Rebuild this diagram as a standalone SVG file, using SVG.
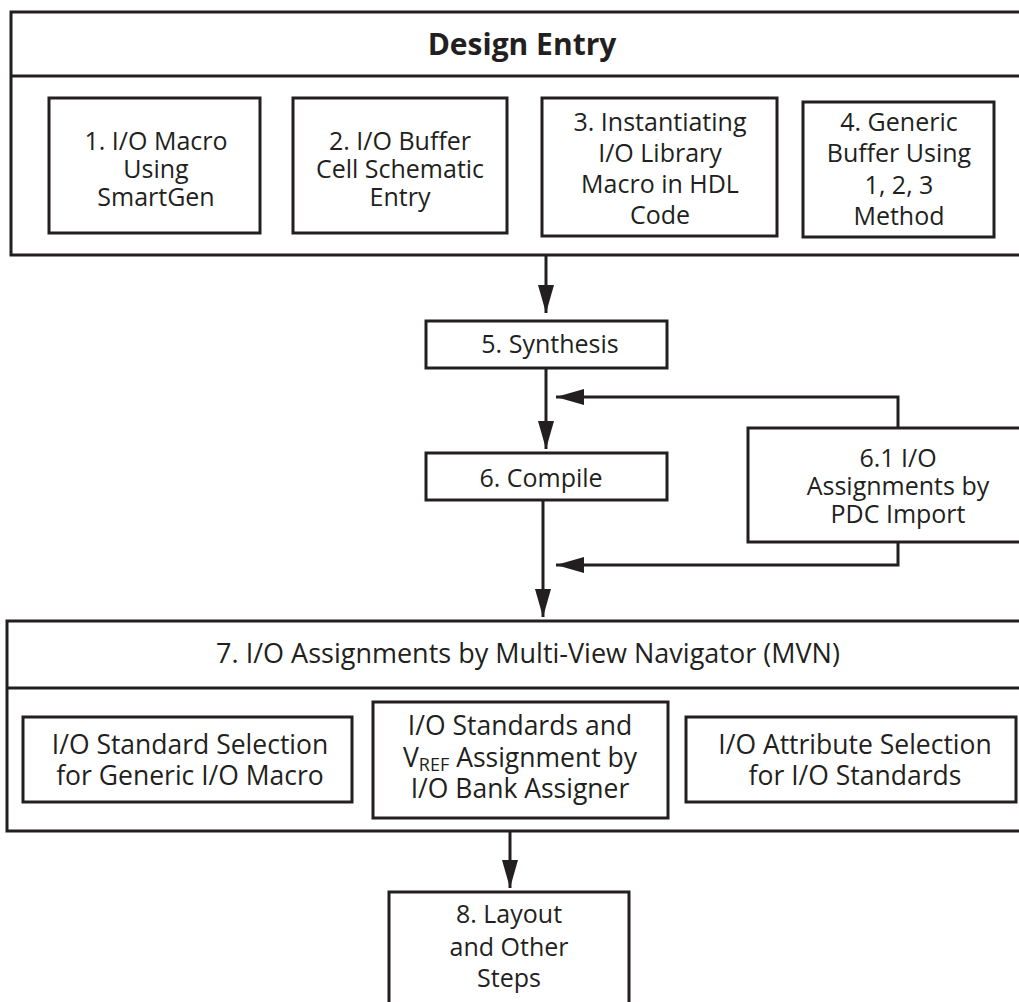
<svg xmlns="http://www.w3.org/2000/svg" width="1019" height="1002" viewBox="0 0 1019 1002">
<style>
.box{fill:#fff;stroke:#231f20;stroke-width:3}
.t{font-family:"Open Sans","Noto Sans",sans-serif;font-size:25px;fill:#231f20;text-anchor:middle}
.t2{font-family:"Open Sans","Noto Sans",sans-serif;font-size:26.5px;fill:#231f20;text-anchor:middle}
.t3{font-family:"Open Sans","Noto Sans",sans-serif;font-size:27px;fill:#231f20;text-anchor:middle}
.title{font-family:"Open Sans","Noto Sans",sans-serif;font-size:30px;font-weight:bold;fill:#231f20;text-anchor:middle}
.ln{fill:none;stroke:#231f20;stroke-width:3}
</style>
<defs>
<marker id="ah" markerUnits="userSpaceOnUse" markerWidth="30" markerHeight="20" viewBox="0 0 30 20" refX="28" refY="10" orient="auto">
<path d="M0,2 L28,10 L0,18 Z" fill="#231f20"/>
</marker>
</defs>
<rect width="1019" height="1002" fill="#fff"/>

<g id="design-entry">
<path class="box" d="M1022,12 H11 V255 H1022"/>
<line class="ln" x1="11" y1="76" x2="1022" y2="76"/>
<text class="title" x="522" y="55">Design Entry</text>
</g>
<g id="n1">
<rect class="box" x="49" y="98" width="211" height="135"/>
<text class="t" x="156" y="150">1. I/O Macro</text>
<text class="t" x="156" y="178">Using</text>
<text class="t" x="156" y="206">SmartGen</text>
</g>
<g id="n2">
<rect class="box" x="293" y="98" width="214" height="135"/>
<text class="t" x="400" y="150">2. I/O Buffer</text>
<text class="t" x="400" y="178">Cell Schematic</text>
<text class="t" x="400" y="206">Entry</text>
</g>
<g id="n3">
<rect class="box" x="542" y="98" width="235" height="138"/>
<text class="t" x="660" y="131">3. Instantiating</text>
<text class="t" x="660" y="162">I/O Library</text>
<text class="t" x="660" y="193">Macro in HDL</text>
<text class="t" x="660" y="224">Code</text>
</g>
<g id="n4">
<rect class="box" x="803" y="102" width="191" height="135"/>
<text class="t" x="899" y="131">4. Generic</text>
<text class="t" x="899" y="162">Buffer Using</text>
<text class="t" x="899" y="194">1, 2, 3</text>
<text class="t" x="899" y="225">Method</text>
</g>
<g id="n5">
<rect class="box" x="426" y="321" width="241" height="47"/>
<text class="t" x="550" y="353">5. Synthesis</text>
</g>
<g id="n6">
<rect class="box" x="426" y="453" width="241" height="47"/>
<text class="t" x="541" y="487">6. Compile</text>
</g>
<g id="n61">
<path class="box" d="M1022,428 H748 V542 H1022"/>
<text class="t" x="898" y="467">6.1 I/O</text>
<text class="t" x="898" y="495">Assignments by</text>
<text class="t" x="898" y="523">PDC Import</text>
</g>
<g id="n7">
<path class="box" d="M1022,621 H7 V831 H1022"/>
<line class="ln" x1="7" y1="688" x2="1022" y2="688"/>
<text class="t3" x="528" y="663">7. I/O Assignments by Multi-View Navigator (MVN)</text>
</g>
<g id="n7a">
<rect class="box" x="23" y="717" width="329" height="85"/>
<text class="t2" x="190" y="754">I/O Standard Selection</text>
<text class="t2" x="190" y="785">for Generic I/O Macro</text>
</g>
<g id="n7b">
<rect class="box" x="373" y="702" width="295" height="116"/>
<text class="t2" x="520" y="735">I/O Standards and</text>
<text class="t2" x="520" y="767">V<tspan font-size="18" dy="4">REF</tspan><tspan dy="-4"> Assignment by</tspan></text>
<text class="t2" x="520" y="798">I/O Bank Assigner</text>
</g>
<g id="n7c">
<rect class="box" x="686" y="717" width="330" height="85"/>
<text class="t2" x="855" y="754">I/O Attribute Selection</text>
<text class="t2" x="855" y="785">for I/O Standards</text>
</g>
<g id="n8">
<rect class="box" x="389" y="892" width="240" height="130"/>
<text class="t" x="509" y="923">8. Layout</text>
<text class="t" x="509" y="956">and Other</text>
<text class="t" x="509" y="987">Steps</text>
</g>

<g id="connectors">
<line class="ln" x1="546" y1="255" x2="546" y2="313" marker-end="url(#ah)"/>
<line class="ln" x1="546" y1="368" x2="546" y2="449" marker-end="url(#ah)"/>
<path class="ln" d="M898,428 V397 H556" marker-end="url(#ah)"/>
<line class="ln" x1="543" y1="500" x2="543" y2="617" marker-end="url(#ah)"/>
<path class="ln" d="M898,542 V565 H556" marker-end="url(#ah)"/>
<line class="ln" x1="510" y1="831" x2="510" y2="888" marker-end="url(#ah)"/>
</g>
</svg>
